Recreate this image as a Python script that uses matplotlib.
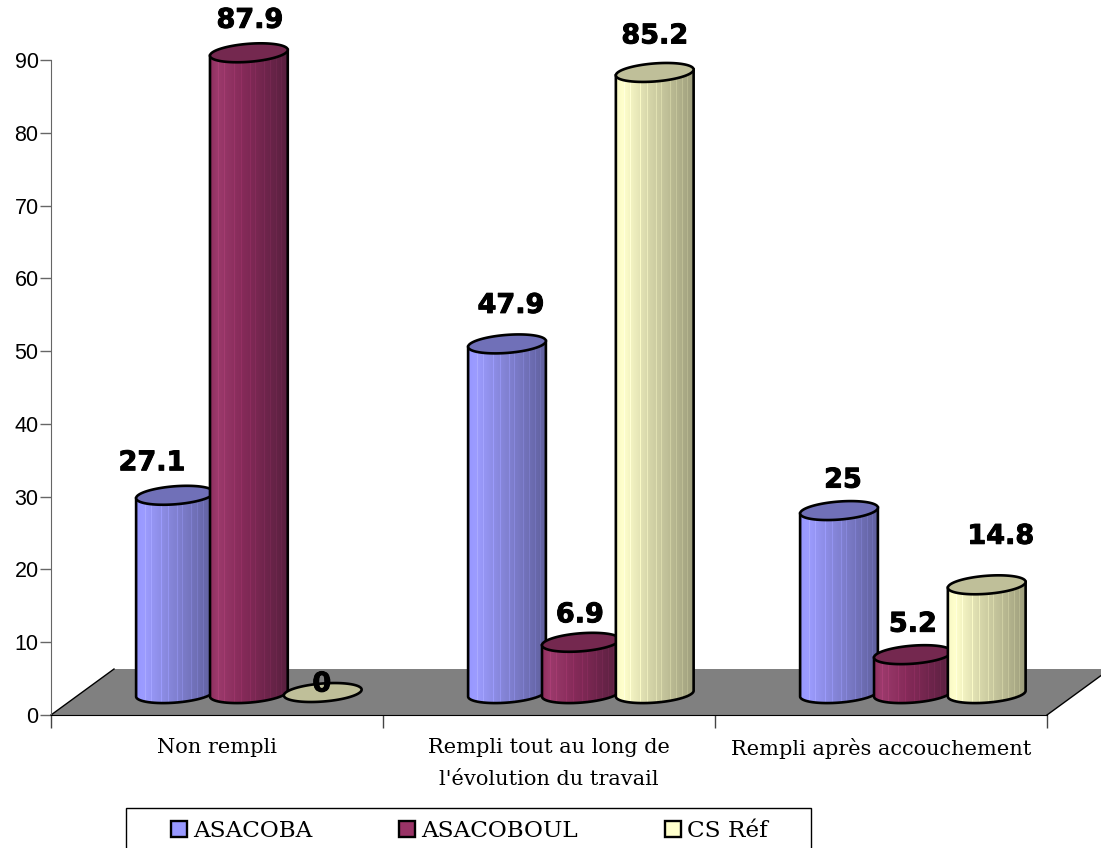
import numpy as np
import matplotlib
matplotlib.use('Agg')
import matplotlib.pyplot as plt
import matplotlib.patheffects as pe
from matplotlib.patches import Polygon, Patch, Rectangle

categories = ['Non rempli', 'Rempli tout au long de\nl\'évolution du travail', 'Rempli après accouchement']
series_names = ['ASACOBA', 'ASACOBOUL', 'CS Réf']
asacoba = [27.1, 47.9, 25]
asacoboul = [87.9, 6.9, 5.2]
cs_ref = [0, 85.2, 14.8]
y_ticks = list(range(0, 100, 10))

# where each value label sits relative to its cylinder top, in pixels
label_dx = [[-23, 1, -1], [4, -1, 0], [4, 0, 14]]
label_dy = [[32, 32, 8], [38, 27, 36], [30, 30, 48]]

# left, highlight, middle, right colours of the shading, then the cap colour
shades = [
    ['#9797ff', '#9c9cff', '#8585d8', '#5f5f9c', '#7070b8'],
    ['#8c2c5c', '#9c3a6c', '#842a58', '#58203f', '#74284f'],
    ['#f8f8c4', '#ffffcc', '#d4d4a8', '#9e9e7c', '#bfbf99'],
]
swatches = ['#9999ff', '#993366', '#ffffcc']
streaks = [0.12, 0.2, 0.33, 0.42, 0.52, 0.58, 0.7, 0.78, 0.85, 0.92]

W, H = 1101, 848
LEFT, RIGHT, TOP, BOTTOM = 51, 1047, 60, 715
PX_X = (RIGHT - LEFT) / 3
PX_Y = (BOTTOM - TOP) / 90
DEPTH = 3.09  # cylinder centre line above the front edge of the floor
A, B, ROT = 39, 9, np.radians(4.5)
FIRST, PITCH = 0.3735, 0.2225
EDGE = 1.9

fig = plt.figure(figsize=(W / 100, H / 100), dpi=100)
ax = fig.add_axes([LEFT / W, 1 - BOTTOM / H, (RIGHT - LEFT) / W, (BOTTOM - TOP) / H])
ax.set_autoscale_on(False)
ax.set_xlim(0, 3)
ax.set_ylim(0, 90)
ax.patch.set_alpha(0)


def ellipse(cx, cy, t):
    x = A * np.cos(t) * np.cos(ROT) - B * np.sin(t) * np.sin(ROT)
    y = A * np.cos(t) * np.sin(ROT) + B * np.sin(t) * np.cos(ROT)
    return cx + x / PX_X, cy + y / PX_Y


def shade_column(colours):
    stops = [matplotlib.colors.to_rgb(c) for c in colours[:4]]
    u = np.linspace(0, 1, 78)
    rgb = np.stack([np.interp(u, [0, 0.1, 0.45, 1], [s[k] for s in stops]) for k in range(3)], axis=1)
    for s in streaks:
        rgb[int(s * 78)] = np.minimum(rgb[int(s * 78)] * 1.1, 1)
    return rgb[None, :, :]


def cylinder(cx, value, colours):
    top_c = value + DEPTH
    t = np.linspace(0, 2 * np.pi, 200)
    if value > 0:
        # body outline: left/right extremes of both ellipses joined by the lower arc
        extreme = np.arctan2(-B * np.sin(ROT), A * np.cos(ROT))
        low = np.linspace(extreme + np.pi, extreme + 2 * np.pi, 80)
        bx, by = ellipse(cx, DEPTH - 0.15, low)
        ux, uy = ellipse(cx, top_c, np.array([extreme, extreme + np.pi]))
        outline = np.column_stack([np.r_[ux[1], bx, ux[0]], np.r_[uy[1], by, uy[0]]])
        body = Polygon(outline, closed=True, facecolor='none', edgecolor='none', zorder=3, clip_on=False)
        hw = A * 1.01 / PX_X
        ax.add_patch(body)
        im = ax.imshow(shade_column(colours), extent=[cx - hw, cx + hw, 0, top_c], aspect='auto',
                       interpolation='nearest', zorder=3)
        im.set_clip_path(body)
        im.set_clip_box(fig.bbox)
        ax.add_patch(Polygon(outline, closed=True, facecolor='none', edgecolor='black', lw=EDGE,
                             zorder=3, clip_on=False))
    ex, ey = ellipse(cx, top_c, t)
    ax.add_patch(Polygon(np.column_stack([ex, ey]), closed=True, facecolor=colours[4], edgecolor='black',
                         lw=EDGE, zorder=3, clip_on=False))


# grey floor with its slanted side edges
floor = [(0, 0), (3, 0), (3 + 63 / PX_X, 46 / PX_Y), ((114 - LEFT) / PX_X, 46 / PX_Y)]
ax.add_patch(Polygon(floor, closed=True, facecolor='#808080', edgecolor='none', zorder=1, clip_on=False))
ax.plot([0, (114 - LEFT) / PX_X], [0, 46 / PX_Y], color='black', lw=1, zorder=2, clip_on=False)
ax.plot([3, 3 + 63 / PX_X], [0, 46 / PX_Y], color='black', lw=1, zorder=2, clip_on=False)

all_series = [asacoba, asacoboul, cs_ref]
for i in range(len(categories)):
    for j, values in enumerate(all_series):
        cx = i + FIRST + j * PITCH
        cylinder(cx, values[i], shades[j])
        txt = ax.annotate(str(values[i]), xy=(cx, values[i] + DEPTH),
                          xytext=(label_dx[i][j] * 0.72, label_dy[i][j] * 0.72), textcoords='offset points',
                          ha='center', va='center', fontsize=19.5, fontweight='bold',
                          family='DejaVu Sans', color='black', zorder=5, annotation_clip=False)
        txt.set_path_effects([pe.withStroke(linewidth=0.7, foreground='black')])

for side in ['top', 'right']:
    ax.spines[side].set_visible(False)
ax.spines['left'].set_color('#666666')
ax.spines['left'].set_bounds(0, 90)
ax.spines['left'].set_zorder(2)
ax.spines['bottom'].set_color('black')
ax.spines['bottom'].set_zorder(2)

ax.set_yticks(y_ticks)
ax.tick_params(axis='y', length=8, width=1, color='#666666', labelsize=15.5, pad=1)
for lab in ax.get_yticklabels():
    lab.set_family('Liberation Sans')
ax.set_xticks([0, 1, 2, 3])
ax.set_xticklabels([])
ax.tick_params(axis='x', which='major', length=9.5, width=1, color='#444444')
ax.set_xticks([0.5, 1.5, 2.5], minor=True)
ax.set_xticklabels(categories, minor=True, family='DejaVu Serif', fontsize=15, linespacing=1.85)
ax.tick_params(axis='x', which='minor', length=0, pad=16.5)

# legend frame runs past the lower edge of the figure
fig.add_artist(Rectangle((126 / W, 1 - 860 / H), 685 / W, 52 / H, transform=fig.transFigure,
                         facecolor='white', edgecolor='black', lw=1))
handles = [Patch(facecolor=swatches[k], edgecolor='black', lw=1.7) for k in range(3)]
leg = fig.legend(handles, series_names, loc='center left', bbox_to_anchor=(171 / W, 1 - 831 / H),
                 ncols=3, frameon=False, borderpad=0, borderaxespad=0, handlelength=0.69, handleheight=0.69,
                 handletextpad=0.26, columnspacing=3.75, prop={'family': 'DejaVu Serif', 'size': 16.7})

fig.savefig('out.png', dpi=100)
